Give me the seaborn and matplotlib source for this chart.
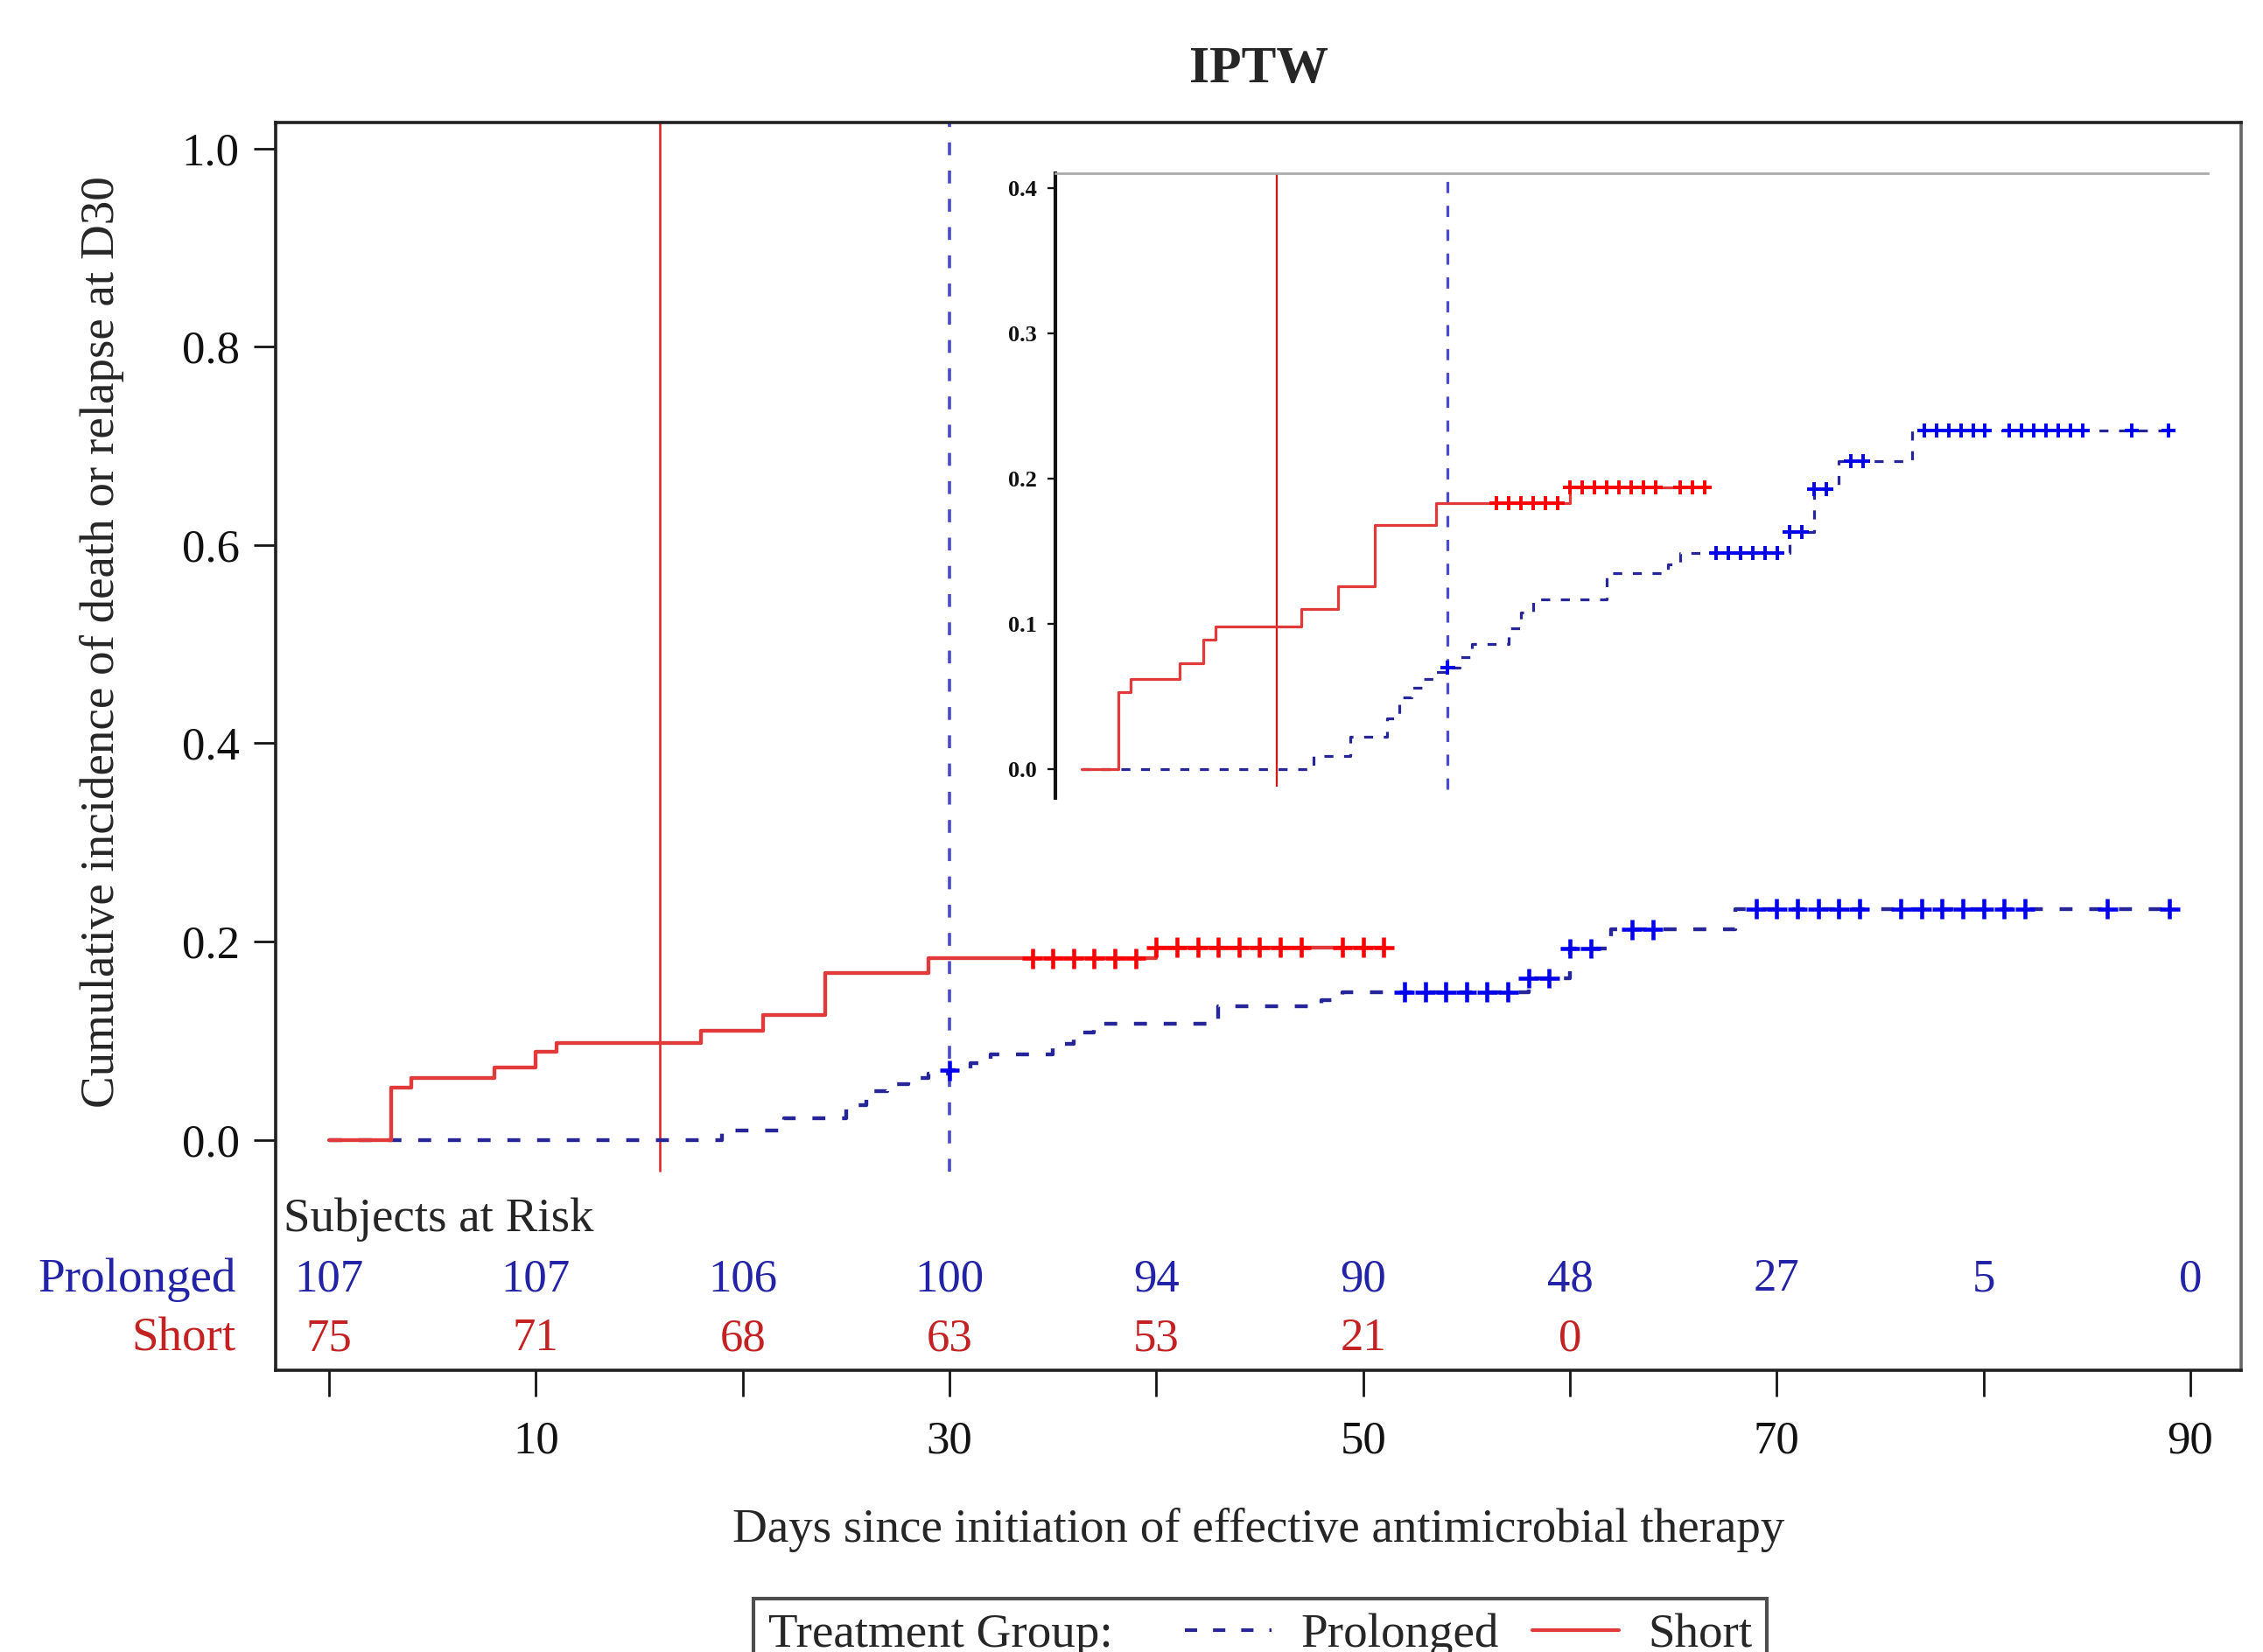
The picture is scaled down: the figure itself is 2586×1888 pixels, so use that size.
import numpy as np
import pandas as pd
import matplotlib
matplotlib.use("Agg")
import matplotlib.pyplot as plt
from matplotlib.lines import Line2D
from matplotlib.offsetbox import HPacker
import seaborn as sns

# IPTW cumulative incidence curves (day of step, level after step)
short_days = [0, 3, 4, 8, 10, 11, 18, 21, 24, 29, 40, 51]
short_cif = [0, 0.053, 0.062, 0.073, 0.089, 0.098, 0.110, 0.126, 0.168, 0.183, 0.194, 0.194]
prolonged_days = [0, 19, 22, 25, 26, 27, 28, 29, 30, 31, 32, 35, 36, 37, 43, 48, 49, 58, 60, 62, 68, 89]
prolonged_cif = [0, 0.009, 0.022, 0.035, 0.049, 0.056, 0.062, 0.067, 0.070, 0.077, 0.086, 0.097,
                 0.108, 0.117, 0.135, 0.141, 0.149, 0.163, 0.193, 0.212, 0.233, 0.233]

# censored observations (+ marks)
short_censored = [34, 35, 36, 37, 38, 39, 40, 41, 42, 43, 44, 45, 46, 47, 49, 50, 51]
prolonged_censored = [30, 52, 53, 54, 55, 56, 57, 58, 59, 60, 61, 63, 64, 69, 70, 71, 72, 73, 74,
                      76, 77, 78, 79, 80, 81, 82, 86, 89]

# subjects at risk table
risk_days = [0, 10, 20, 30, 40, 50, 60, 70, 80, 90]
risk_prolonged = [107, 107, 106, 100, 94, 90, 48, 27, 5, 0]
risk_short = [75, 71, 68, 63, 53, 21, 0]

# reference lines: end of short / prolonged therapy
short_stop = 16
prolonged_stop = 30

groups = ["Prolonged", "Short"]
line_colors = {"Prolonged": "#26269A", "Short": "#E23A3A"}
mark_colors = {"Prolonged": "#0000F0", "Short": "#FF0000"}
text_colors = {"Prolonged": "#2323A8", "Short": "#C42222"}


def level_at(days, cif, t):
    idx = np.searchsorted(days, t, side="right") - 1
    return np.asarray(cif)[idx]


curves = pd.concat([
    pd.DataFrame({"day": prolonged_days, "cif": prolonged_cif, "group": "Prolonged"}),
    pd.DataFrame({"day": short_days, "cif": short_cif, "group": "Short"}),
])
censored = pd.concat([
    pd.DataFrame({"day": prolonged_censored,
                  "cif": level_at(prolonged_days, prolonged_cif, prolonged_censored),
                  "group": "Prolonged"}),
    pd.DataFrame({"day": short_censored,
                  "cif": level_at(short_days, short_cif, short_censored),
                  "group": "Short"}),
])

sns.set_theme(style="white")
plt.rcParams["font.family"] = ["Liberation Serif", "DejaVu Serif"]
plt.rcParams["axes.unicode_minus"] = False


def draw_curves(ax, lw, dash, ms, mew):
    sns.lineplot(data=curves, x="day", y="cif", hue="group", style="group",
                 hue_order=groups, style_order=groups, palette=line_colors,
                 dashes={"Prolonged": dash, "Short": ""}, drawstyle="steps-post",
                 estimator=None, sort=False, linewidth=lw, legend=False, ax=ax)
    sns.scatterplot(data=censored, x="day", y="cif", hue="group", hue_order=groups,
                    palette=mark_colors, marker="+", s=ms ** 2, linewidth=mew,
                    legend=False, ax=ax, zorder=3)


fig = plt.figure(figsize=(2586 / 165, 1888 / 165), dpi=165)

# main axes (the frame also holds the at-risk table)
ax = fig.add_axes([0.1218, 0.1703, 0.8686, 0.7555])
ymin, ymax = -0.2329, 1.0262
ax.set_xlim(-2.58, 92.46)
ax.set_ylim(ymin, ymax)
draw_curves(ax, lw=1.9, dash=(3.4, 4.4), ms=10, mew=2.0)
ax.vlines(short_stop, -0.032, ymax, color="#E02020", lw=1.1, zorder=1)
ax.vlines(prolonged_stop, -0.032, ymax, color="#4A4AD0", lw=1.6,
          linestyles=[(0, (4.0, 4.8))], zorder=1)

ax.set_yticks([0, 0.2, 0.4, 0.6, 0.8, 1.0])
ax.set_yticklabels(["0.0", "0.2", "0.4", "0.6", "0.8", "1.0"])
ax.set_xticks(risk_days)
ax.set_xticklabels([str(d) if d % 20 == 10 else "" for d in risk_days])
ax.tick_params(axis="y", direction="out", length=11, width=1.2, pad=7, labelsize=23,
               left=True, colors="#111111")
ax.tick_params(axis="x", direction="out", length=13, width=1.2, pad=12, labelsize=23,
               bottom=True, colors="#111111")
for side, sp in ax.spines.items():
    sp.set_linewidth(1.6)
    sp.set_color("#222222" if side in ("left", "bottom", "top") else "#666666")

ax.set_ylabel("Cumulative incidence of death or relapse at D30", fontsize=24)
ax.yaxis.set_label_coords(-0.077, 0.584)
ax.set_xlabel("Days since initiation of effective antimicrobial therapy", fontsize=24,
              va="top")
ax.xaxis.set_label_coords(0.5, -0.110)
ax.set_title("IPTW", fontsize=26, fontweight="bold", pad=20)

# subjects at risk
ax.text(-2.2, -0.080, "Subjects at Risk", fontsize=24, ha="left", va="center")
ax.text(-4.5, -0.141, "Prolonged", fontsize=24, ha="right", va="center",
        color=text_colors["Prolonged"])
ax.text(-4.5, -0.201, "Short", fontsize=24, ha="right", va="center",
        color=text_colors["Short"])
for d, n in zip(risk_days, risk_prolonged):
    ax.text(d, -0.141, str(n), fontsize=23, ha="center", va="center",
            color=text_colors["Prolonged"])
for d, n in zip(risk_days, risk_short):
    ax.text(d, -0.201, str(n), fontsize=23, ha="center", va="center",
            color=text_colors["Short"])

# zoomed inset
ax_in = fig.add_axes([0.4662, 0.5170, 0.5096, 0.3782])
in_top = 0.4104
ax_in.set_xlim(-2.17, 92.27)
ax_in.set_ylim(-0.020, in_top)
draw_curves(ax_in, lw=1.4, dash=(3.2, 3.8), ms=7, mew=1.7)
ax_in.vlines(short_stop, -0.012, in_top, color="#D01818", lw=1.0, zorder=1)
ax_in.vlines(prolonged_stop, -0.014, in_top, color="#4A4AD0", lw=1.4,
             linestyles=[(0, (4.0, 4.5))], zorder=1)
ax_in.set_yticks([0, 0.1, 0.2, 0.3, 0.4])
ax_in.set_yticklabels(["0.0", "0.1", "0.2", "0.3", "0.4"])
ax_in.set_xticks([])
ax_in.tick_params(axis="y", direction="out", length=4, width=1, pad=5, labelsize=11.5,
                  left=True, colors="#111111")
for lab in ax_in.get_yticklabels():
    lab.set_fontweight("bold")
ax_in.set_xlabel("")
ax_in.set_ylabel("")
ax_in.spines["right"].set_visible(False)
ax_in.spines["bottom"].set_visible(False)
ax_in.spines["left"].set_color("#111111")
ax_in.spines["left"].set_linewidth(1.8)
ax_in.spines["top"].set_color("#AAAAAA")
ax_in.spines["top"].set_linewidth(1.2)

# legend, title inline with entries, cut by the figure's lower edge as in the source
handles = [Line2D([], [], color=line_colors["Prolonged"], lw=1.8, ls=(0, (3.4, 4.4))),
           Line2D([], [], color=line_colors["Short"], lw=1.8)]
leg = fig.legend(handles=handles, labels=groups, title="Treatment Group:", ncol=2,
                 loc="upper center", bbox_to_anchor=(0.5568, 0.0323), fontsize=24,
                 title_fontsize=24, frameon=True, fancybox=False, edgecolor="#222222",
                 handlelength=1.8, handletextpad=0.6, columnspacing=0.7,
                 labelspacing=1.5, borderaxespad=0, borderpad=0.3)
leg._legend_box.__class__ = HPacker
leg.get_frame().set_linewidth(1.8)

fig.savefig("out.png", dpi=165)
